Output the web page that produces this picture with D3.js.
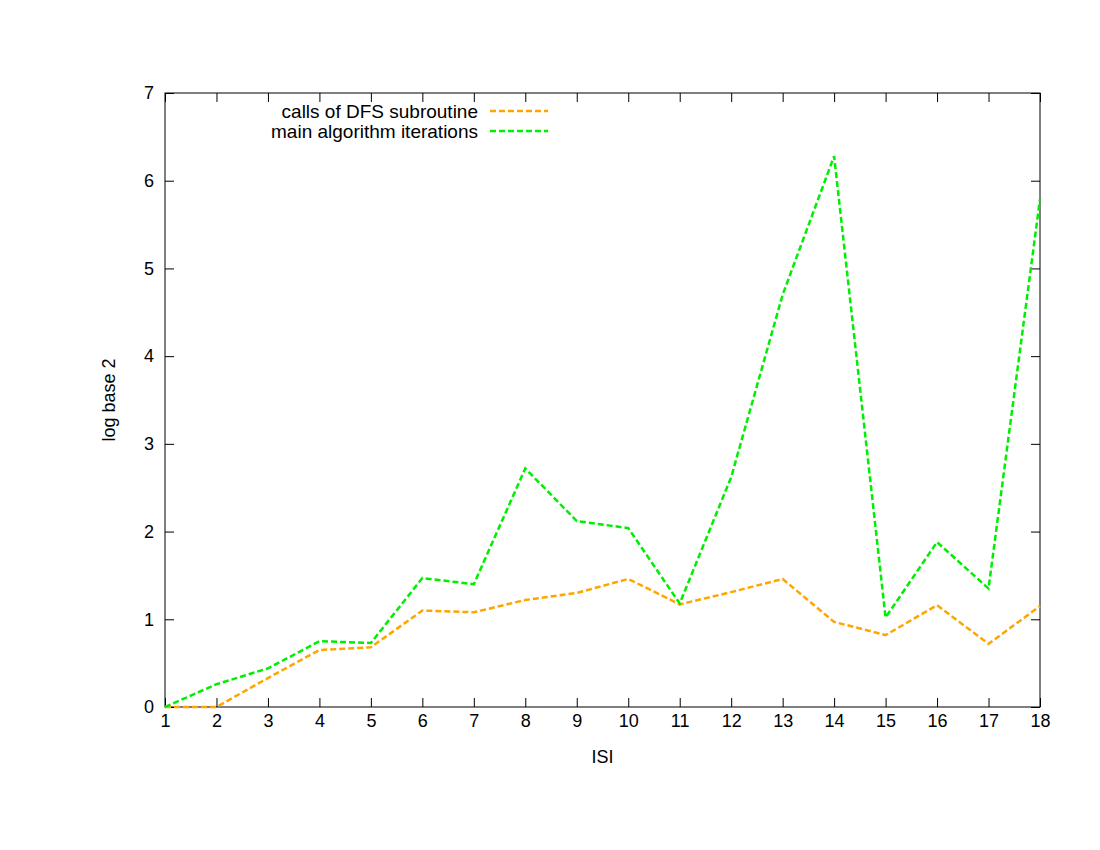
<!DOCTYPE html>
<html>
<head>
<meta charset="utf-8">
<script src="https://cdn.jsdelivr.net/npm/d3@7"></script>
<style>
body { margin: 0; background: #fff; }
text { font-family: "Liberation Sans", Arial, sans-serif; font-size: 18px; fill: #000; }
</style>
</head>
<body>
<div id="chart"></div>
<script>
// values
var isi = [1, 2, 3, 4, 5, 6, 7, 8, 9, 10, 11, 12, 13, 14, 15, 16, 17, 18];
var dfsCalls = [0, 0, 0.33, 0.65, 0.68, 1.10, 1.08, 1.22, 1.30, 1.46, 1.17, 1.31, 1.46, 0.97, 0.82, 1.16, 0.72, 1.15];
var mainIters = [0, 0.26, 0.44, 0.75, 0.73, 1.47, 1.40, 2.72, 2.12, 2.04, 1.18, 2.62, 4.70, 6.28, 1.02, 1.88, 1.35, 5.79];
var yTicks = [0, 1, 2, 3, 4, 5, 6, 7];
var seriesNames = ["calls of DFS subroutine", "main algorithm iterations"];
var seriesColors = ["#ffa500", "#00ee00"];

var width = 1100, height = 850;
var margin = {top: 93, right: 60, bottom: 143, left: 165};
var w = width - margin.left - margin.right,
    h = height - margin.top - margin.bottom;

var svg = d3.select("#chart").append("svg")
    .attr("width", width)
    .attr("height", height);

var g = svg.append("g")
    .attr("transform", "translate(" + margin.left + "," + margin.top + ")");

var xScale = d3.scaleLinear().domain([1, 18]).range([0, w]);
var yScale = d3.scaleLinear().domain([0, 7]).range([h, 0]);

var tickLen = 9;

// axes, gnuplot style: ticks inward, mirrored
var xAxis = d3.axisBottom(xScale).tickValues(isi).tickSize(-tickLen).tickPadding(7).tickFormat(d3.format("d"));
var yAxis = d3.axisLeft(yScale).tickValues(yTicks).tickSize(-tickLen).tickPadding(11).tickFormat(d3.format("d"));
var xTop = d3.axisTop(xScale).tickValues(isi).tickSize(-tickLen).tickFormat("");
var yRight = d3.axisRight(yScale).tickValues(yTicks).tickSize(-tickLen).tickFormat("");

function styleAxis(sel) {
  sel.select(".domain").remove();
  sel.selectAll("line").attr("stroke", "#000").attr("stroke-width", 1);
  sel.selectAll("text").style("font-size", "18px").attr("fill", "#000");
}

g.append("g").attr("transform", "translate(0," + h + ")").call(xAxis).call(styleAxis);
g.append("g").call(yAxis).call(styleAxis);
g.append("g").call(xTop).call(styleAxis);
g.append("g").attr("transform", "translate(" + w + ",0)").call(yRight).call(styleAxis);

g.append("rect")
    .attr("width", w).attr("height", h)
    .attr("fill", "none").attr("stroke", "#000").attr("stroke-width", 1);

// lines
var line = d3.line()
    .x(function(d, i) { return xScale(isi[i]); })
    .y(function(d) { return yScale(d); });

[dfsCalls, mainIters].forEach(function(s, k) {
  g.append("path")
    .datum(s)
    .attr("d", line)
    .attr("fill", "none")
    .attr("stroke", seriesColors[k])
    .attr("stroke-width", 2.5)
    .attr("stroke-dasharray", "6,3");
});

// legend
var legend = svg.append("g");
seriesNames.forEach(function(name, k) {
  var ly = 111 + k * 20;
  legend.append("text")
    .attr("x", 478).attr("y", ly)
    .attr("text-anchor", "end")
    .attr("dy", "0.35em")
    .style("font-size", "19px")
    .text(name);
  legend.append("line")
    .attr("x1", 490).attr("x2", 548)
    .attr("y1", ly).attr("y2", ly)
    .attr("stroke", seriesColors[k])
    .attr("stroke-width", 2.5)
    .attr("stroke-dasharray", "6,3");
});

// axis titles
svg.append("text")
    .attr("x", margin.left + w / 2).attr("y", 757)
    .attr("text-anchor", "middle").attr("dy", "0.35em")
    .text("ISI");

svg.append("text")
    .attr("transform", "translate(109," + (margin.top + h / 2) + ") rotate(-90)")
    .attr("text-anchor", "middle").attr("dy", "0.35em")
    .text("log base 2");
</script>
</body>
</html>
